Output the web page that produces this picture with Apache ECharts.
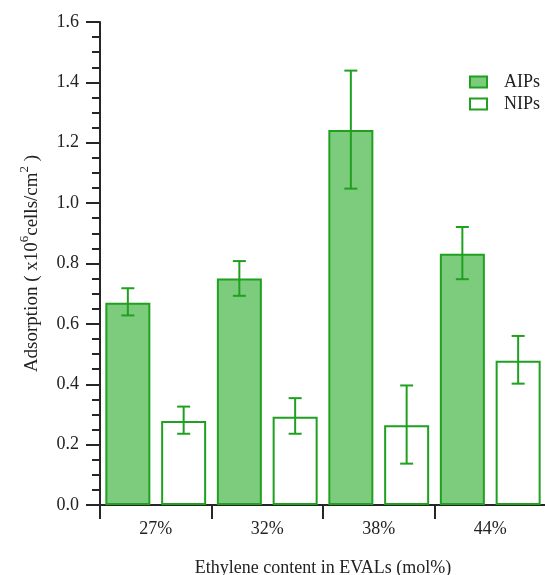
<!DOCTYPE html>
<html>
<head>
<meta charset="utf-8">
<script src="https://cdn.jsdelivr.net/npm/echarts@6/dist/echarts.min.js"></script>
<style>
html, body { margin: 0; padding: 0; background: #fff; }
#main { width: 545px; height: 575px; }
</style>
</head>
<body>
<div id="main"></div>
<script>
// data
var categories = ['27%', '32%', '38%', '44%'];
var aipsValues = [0.670, 0.750, 1.242, 0.832];
var aipsErrLow = [0.628, 0.693, 1.048, 0.748];
var aipsErrHigh = [0.718, 0.808, 1.439, 0.921];
var nipsValues = [0.278, 0.292, 0.264, 0.478];
var nipsErrLow = [0.236, 0.236, 0.137, 0.402];
var nipsErrHigh = [0.326, 0.354, 0.396, 0.560];

var font = "'Liberation Serif', 'Times New Roman', serif";
var green = '#1fa01f';
var fill = '#7dcc7d';
var axisColor = '#262626';
var barWidth = 45;
var barGap = 0.24;
var shift = barWidth * (1 + barGap) / 2;

function errData(lo, hi) {
    return lo.map(function (v, i) { return [i, v, hi[i]]; });
}

function errorBar(offset) {
    return function (params, api) {
        var x = api.value(0);
        var lo = api.coord([x, api.value(1)]);
        var hi = api.coord([x, api.value(2)]);
        var cx = lo[0] + offset;
        var half = 6.5;
        var style = { stroke: green, lineWidth: 2 };
        return {
            type: 'group',
            children: [
                { type: 'line', shape: { x1: cx, y1: hi[1], x2: cx, y2: lo[1] }, style: style },
                { type: 'line', shape: { x1: cx - half, y1: hi[1], x2: cx + half, y2: hi[1] }, style: style },
                { type: 'line', shape: { x1: cx - half, y1: lo[1], x2: cx + half, y2: lo[1] }, style: style }
            ]
        };
    };
}

var chart = echarts.init(document.getElementById('main'));

var option = {
    animation: false,
    textStyle: { fontFamily: font },
    grid: { left: 100, right: -1, top: 22, bottom: 70, containLabel: false, outerBoundsMode: 'none' },
    legend: {
        data: ['AIPs', 'NIPs'],
        orient: 'vertical',
        left: 469,
        top: 73,
        padding: 0,
        icon: 'rect',
        itemWidth: 17,
        itemHeight: 11,
        itemGap: 4,
        textStyle: { fontFamily: font, fontSize: 18, color: '#222', padding: [0, 0, 0, 12] }
    },
    xAxis: {
        type: 'category',
        data: categories,
        offset: 1,
        axisLine: { show: true, lineStyle: { color: axisColor, width: 2 } },
        axisTick: { show: true, length: 14, lineStyle: { color: axisColor, width: 2 } },
        axisLabel: { fontFamily: font, fontSize: 18, color: '#222', margin: 14 },
        name: 'Ethylene content in EVALs (mol%)',
        nameLocation: 'middle',
        nameGap: 53,
        nameTextStyle: { fontFamily: font, fontSize: 18, color: '#222' }
    },
    yAxis: {
        type: 'value',
        min: 0,
        max: 1.6,
        interval: 0.2,
        axisLine: { show: true, lineStyle: { color: axisColor, width: 2 } },
        axisTick: { show: true, length: 14, lineStyle: { color: axisColor, width: 2 } },
        minorTick: { show: true, splitNumber: 4, length: 8, lineStyle: { color: axisColor, width: 2 } },
        splitLine: { show: false },
        axisLabel: {
            fontFamily: font, fontSize: 18, color: '#222', margin: 21,
            formatter: function (v) { return v.toFixed(1); }
        },
        name: 'Adsorption ( x10{sup|6}cells/cm{sup|2} )',
        nameLocation: 'middle',
        nameGap: 49,
        nameTextStyle: {
            fontFamily: font, fontSize: 19, color: '#222', lineHeight: 28,
            rich: {
                sup: { fontFamily: font, fontSize: 13, lineHeight: 14, verticalAlign: 'top', color: '#222' }
            }
        }
    },
    series: [
        {
            name: 'AIPs',
            type: 'bar',
            data: aipsValues,
            barWidth: barWidth,
            barGap: (barGap * 100) + '%',
            itemStyle: { color: fill, borderColor: green, borderWidth: 2 }
        },
        {
            name: 'NIPs',
            type: 'bar',
            data: nipsValues,
            barWidth: barWidth,
            itemStyle: { color: '#fff', borderColor: green, borderWidth: 2 }
        },
        {
            type: 'custom',
            data: errData(aipsErrLow, aipsErrHigh),
            renderItem: errorBar(-shift),
            z: 5
        },
        {
            type: 'custom',
            data: errData(nipsErrLow, nipsErrHigh),
            renderItem: errorBar(shift),
            z: 5
        }
    ]
};

chart.setOption(option);
</script>
</body>
</html>
